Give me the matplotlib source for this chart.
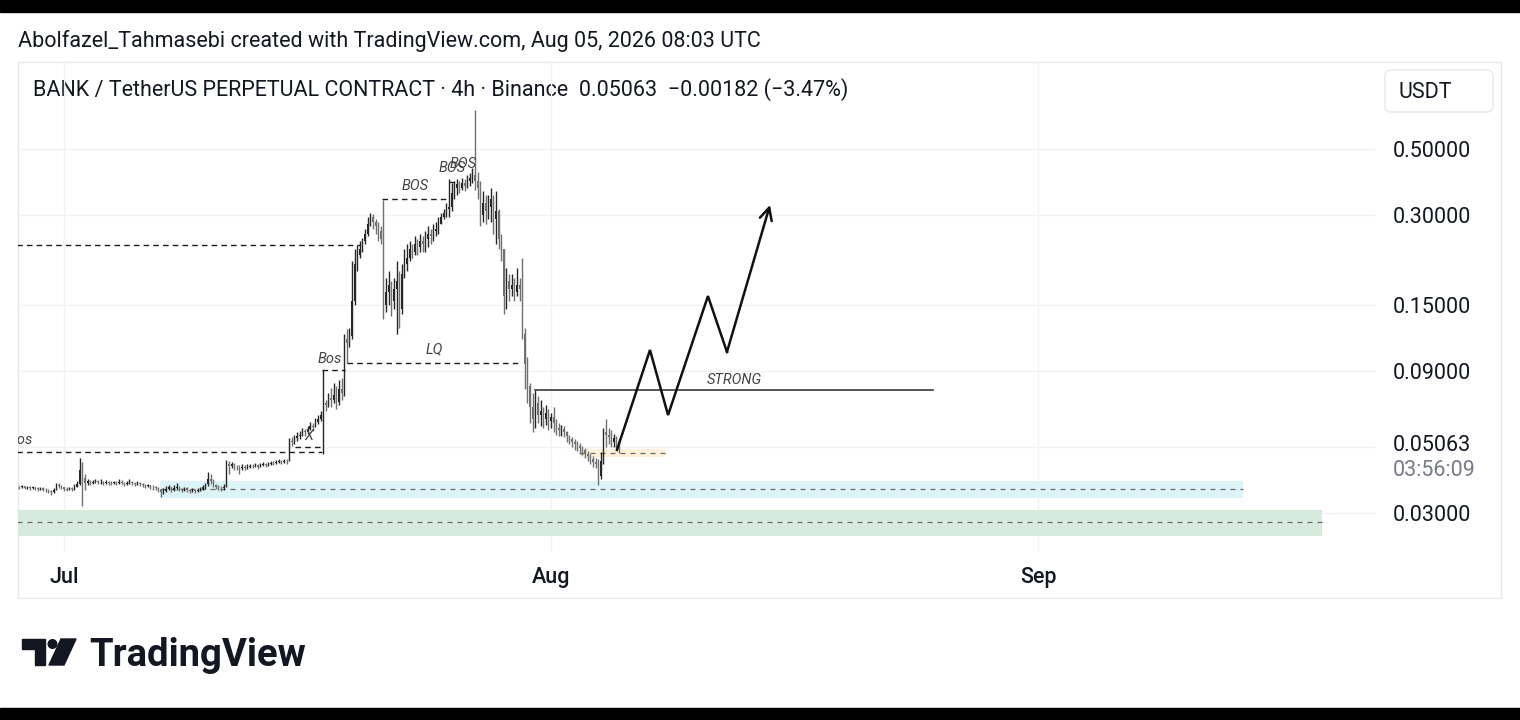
import matplotlib
matplotlib.use("Agg")
import matplotlib.pyplot as plt
import matplotlib.dates as mdates
from matplotlib.patches import Rectangle, Polygon, Circle, FancyBboxPatch
from datetime import datetime, timedelta

plt.rcParams['font.family'] = ['Roboto', 'DejaVu Sans']

# ---------------------------------------------------------------------------
# BANK/USDT perpetual, 4h candles from Jun 28 00:00 UTC, one row per day
# ---------------------------------------------------------------------------
first_candle = datetime(2026, 6, 28)
first_open = 0.0366

closes = [
    0.0368, 0.0366, 0.0369, 0.0365, 0.0367, 0.0364,   # Jun 28
    0.0366, 0.0363, 0.0361, 0.0364, 0.0360, 0.0358,   # Jun 29
    0.0356, 0.0352, 0.0360, 0.0372, 0.0369, 0.0366,   # Jun 30
    0.0362, 0.0360, 0.0363, 0.0361, 0.0368, 0.0375,   # Jul 1
    0.0420, 0.0395, 0.0378, 0.0384, 0.0380, 0.0382,   # Jul 2
    0.0385, 0.0381, 0.0383, 0.0379, 0.0382, 0.0380,   # Jul 3
    0.0378, 0.0381, 0.0379, 0.0383, 0.0380, 0.0377,   # Jul 4
    0.0380, 0.0383, 0.0378, 0.0376, 0.0379, 0.0375,   # Jul 5
    0.0373, 0.0370, 0.0372, 0.0368, 0.0366, 0.0364,   # Jul 6
    0.0360, 0.0352, 0.0356, 0.0362, 0.0366, 0.0360,   # Jul 7
    0.0365, 0.0368, 0.0362, 0.0358, 0.0363, 0.0360,   # Jul 8
    0.0356, 0.0358, 0.0355, 0.0359, 0.0362, 0.0366,   # Jul 9
    0.0375, 0.0392, 0.0385, 0.0372, 0.0368, 0.0365,   # Jul 10
    0.0363, 0.0368, 0.0440, 0.0432, 0.0438, 0.0430,   # Jul 11
    0.0428, 0.0425, 0.0430, 0.0426, 0.0429, 0.0432,   # Jul 12
    0.0431, 0.0434, 0.0430, 0.0435, 0.0438, 0.0436,   # Jul 13
    0.0440, 0.0443, 0.0441, 0.0446, 0.0449, 0.0446,   # Jul 14
    0.0450, 0.0448, 0.0525, 0.0520, 0.0535, 0.0545,   # Jul 15
    0.0550, 0.0565, 0.0560, 0.0575, 0.0590, 0.0585,   # Jul 16
    0.0605, 0.0620, 0.0640, 0.0700, 0.0690, 0.0730,   # Jul 17
    0.0720, 0.0750, 0.0710, 0.0780, 0.0760, 0.1150,   # Jul 18
    0.1120, 0.1180, 0.1550, 0.2050, 0.2200, 0.2300,   # Jul 19
    0.2450, 0.2600, 0.2800, 0.2950, 0.2850, 0.2750,   # Jul 20
    0.2650, 0.2500, 0.1500, 0.1650, 0.1750, 0.1550,   # Jul 21
    0.1700, 0.1800, 0.1450, 0.1900, 0.2050, 0.2150,   # Jul 22
    0.2300, 0.2250, 0.2400, 0.2350, 0.2450, 0.2400,   # Jul 23
    0.2500, 0.2600, 0.2550, 0.2650, 0.2700, 0.2800,   # Jul 24
    0.2950, 0.3050, 0.3150, 0.3200, 0.3550, 0.3700,   # Jul 25
    0.3800, 0.3700, 0.3850, 0.3750, 0.3900, 0.4000,   # Jul 26
    0.4100, 0.3900, 0.3700, 0.3000, 0.3300, 0.3100,   # Jul 27
    0.3200, 0.3400, 0.2900, 0.3100, 0.2500, 0.2300,   # Jul 28
    0.1600, 0.1800, 0.1700, 0.1750, 0.1650, 0.1750,   # Jul 29
    0.1700, 0.1200, 0.0950, 0.0800, 0.0680, 0.0620,   # Jul 30
    0.0700, 0.0640, 0.0660, 0.0620, 0.0650, 0.0610,   # Jul 31
    0.0630, 0.0600, 0.0580, 0.0570, 0.0575, 0.0560,   # Aug 1
    0.0545, 0.0530, 0.0520, 0.0510, 0.0505, 0.0495,   # Aug 2
    0.0488, 0.0475, 0.0465, 0.0455, 0.0445, 0.0440,   # Aug 3
    0.0400, 0.0450, 0.0560, 0.0550, 0.0540, 0.0520,   # Aug 4
    0.0535, 0.0520, 0.05063,                          # Aug 5
]

highs = [
    0.0372, 0.0371, 0.0373, 0.0370, 0.0371, 0.0369,
    0.0369, 0.0368, 0.0366, 0.0368, 0.0366, 0.0363,
    0.0361, 0.0358, 0.0363, 0.0378, 0.0380, 0.0373,
    0.0368, 0.0366, 0.0367, 0.0366, 0.0375, 0.0386,
    0.0459, 0.0445, 0.0405, 0.0392, 0.0388, 0.0389,
    0.0392, 0.0388, 0.0390, 0.0386, 0.0388, 0.0386,
    0.0384, 0.0386, 0.0385, 0.0390, 0.0387, 0.0383,
    0.0386, 0.0390, 0.0385, 0.0382, 0.0384, 0.0381,
    0.0378, 0.0376, 0.0377, 0.0374, 0.0372, 0.0369,
    0.0366, 0.0362, 0.0364, 0.0369, 0.0372, 0.0368,
    0.0372, 0.0378, 0.0370, 0.0365, 0.0368, 0.0366,
    0.0361, 0.0363, 0.0360, 0.0364, 0.0368, 0.0372,
    0.0380, 0.0412, 0.0405, 0.0390, 0.0376, 0.0372,
    0.0369, 0.0375, 0.0452, 0.0448, 0.0446, 0.0442,
    0.0436, 0.0434, 0.0438, 0.0434, 0.0437, 0.0440,
    0.0438, 0.0441, 0.0438, 0.0442, 0.0445, 0.0443,
    0.0447, 0.0450, 0.0449, 0.0453, 0.0456, 0.0454,
    0.0456, 0.0455, 0.0535, 0.0540, 0.0548, 0.0560,
    0.0565, 0.0578, 0.0575, 0.0590, 0.0605, 0.0600,
    0.0625, 0.0640, 0.0660, 0.0909, 0.0720, 0.0760,
    0.0790, 0.0820, 0.0800, 0.0840, 0.0850, 0.1200,
    0.1240, 0.1250, 0.2100, 0.2300, 0.2380, 0.2450,
    0.2520, 0.2700, 0.2950, 0.3050, 0.3020, 0.2900,
    0.2850, 0.2750, 0.3370, 0.1850, 0.1950, 0.1800,
    0.1850, 0.2100, 0.1950, 0.2050, 0.2300, 0.2400,
    0.2450, 0.2400, 0.2550, 0.2500, 0.2600, 0.2550,
    0.2650, 0.2750, 0.2700, 0.2800, 0.2850, 0.2950,
    0.3050, 0.3150, 0.3300, 0.3950, 0.3850, 0.3900,
    0.3950, 0.3900, 0.4000, 0.3950, 0.4100, 0.4150,
    0.4300, 0.6760, 0.4200, 0.3900, 0.3600, 0.3500,
    0.3500, 0.3700, 0.3500, 0.3600, 0.3150, 0.2600,
    0.2300, 0.2000, 0.1900, 0.1900, 0.1850, 0.2000,
    0.1850, 0.2150, 0.1250, 0.1000, 0.0820, 0.0760,
    0.0778, 0.0740, 0.0720, 0.0680, 0.0690, 0.0670,
    0.0650, 0.0680, 0.0620, 0.0600, 0.0595, 0.0590,
    0.0565, 0.0550, 0.0540, 0.0530, 0.0525, 0.0515,
    0.0505, 0.0495, 0.0485, 0.0475, 0.0465, 0.0458,
    0.0455, 0.0480, 0.0580, 0.0620, 0.0580, 0.0570,
    0.0555, 0.0545, 0.0530,
]

lows = [
    0.0362, 0.0362, 0.0364, 0.0361, 0.0362, 0.0360,
    0.0361, 0.0359, 0.0357, 0.0359, 0.0355, 0.0353,
    0.0350, 0.0345, 0.0350, 0.0358, 0.0364, 0.0361,
    0.0357, 0.0355, 0.0358, 0.0356, 0.0360, 0.0366,
    0.0372, 0.0316, 0.0360, 0.0372, 0.0374, 0.0376,
    0.0378, 0.0375, 0.0377, 0.0373, 0.0376, 0.0374,
    0.0373, 0.0375, 0.0374, 0.0377, 0.0375, 0.0371,
    0.0374, 0.0377, 0.0373, 0.0370, 0.0373, 0.0369,
    0.0368, 0.0365, 0.0367, 0.0362, 0.0360, 0.0358,
    0.0354, 0.0340, 0.0348, 0.0353, 0.0358, 0.0354,
    0.0357, 0.0360, 0.0355, 0.0352, 0.0356, 0.0354,
    0.0351, 0.0352, 0.0350, 0.0353, 0.0357, 0.0360,
    0.0362, 0.0370, 0.0375, 0.0366, 0.0361, 0.0358,
    0.0357, 0.0360, 0.0366, 0.0405, 0.0425, 0.0418,
    0.0418, 0.0405, 0.0420, 0.0418, 0.0421, 0.0424,
    0.0424, 0.0427, 0.0423, 0.0428, 0.0431, 0.0429,
    0.0433, 0.0436, 0.0434, 0.0439, 0.0442, 0.0439,
    0.0442, 0.0440, 0.0448, 0.0505, 0.0512, 0.0525,
    0.0530, 0.0545, 0.0545, 0.0555, 0.0570, 0.0565,
    0.0585, 0.0598, 0.0612, 0.0475, 0.0660, 0.0680,
    0.0680, 0.0700, 0.0670, 0.0690, 0.0720, 0.0740,
    0.0960, 0.1080, 0.1150, 0.1500, 0.1950, 0.2150,
    0.2250, 0.2400, 0.2550, 0.2750, 0.2700, 0.2600,
    0.2450, 0.2400, 0.1340, 0.1420, 0.1500, 0.1380,
    0.1450, 0.1200, 0.1250, 0.1400, 0.1850, 0.1950,
    0.2100, 0.2150, 0.2200, 0.2200, 0.2250, 0.2250,
    0.2250, 0.2350, 0.2400, 0.2450, 0.2550, 0.2600,
    0.2800, 0.2900, 0.2950, 0.2950, 0.3100, 0.3400,
    0.3500, 0.3550, 0.3650, 0.3600, 0.3700, 0.3750,
    0.3850, 0.3650, 0.3400, 0.2750, 0.2850, 0.2800,
    0.2900, 0.2850, 0.2600, 0.2400, 0.2300, 0.2100,
    0.1400, 0.1450, 0.1550, 0.1600, 0.1550, 0.1600,
    0.1550, 0.1150, 0.0780, 0.0700, 0.0600, 0.0560,
    0.0580, 0.0600, 0.0590, 0.0580, 0.0595, 0.0570,
    0.0580, 0.0560, 0.0550, 0.0545, 0.0545, 0.0540,
    0.0520, 0.0510, 0.0500, 0.0490, 0.0485, 0.0475,
    0.0470, 0.0460, 0.0450, 0.0440, 0.0430, 0.0425,
    0.0372, 0.0390, 0.0440, 0.0500, 0.0510, 0.0500,
    0.0500, 0.0495, 0.0478,
]

# ---------------------------------------------------------------------------
# drawings on the chart (x = days after Jul 1 00:00 UTC, y = price)
# ---------------------------------------------------------------------------
dashed_levels = [          # (from day, to day, price)
    (-3.6, 16.42, 0.0481),
    (-3.6, 18.84, 0.2380),
    (14.70, 16.42, 0.0500),
    (16.42, 17.89, 0.0909),
    (18.01, 29.15, 0.0956),
    (20.24, 24.38, 0.3400),
    (24.50, 24.95, 0.3870),
]
labels = [                 # (text, day, price, horizontal align)
    ("Bos", -3.55, 0.0528, "left"),
    ("X", 15.55, 0.0546, "center"),
    ("Bos", 16.93, 0.0985, "center"),
    ("LQ", 23.60, 0.1060, "center"),
    ("BOS", 22.34, 0.3760, "center"),
    ("BOS", 24.70, 0.4300, "center"),
    ("BOS", 25.40, 0.4450, "center"),
    ("STRONG", 42.65, 0.0842, "center"),
]
zones = [                  # (from day, to day, low, high, mid line, fill colour)
    (-3.6, 80.08, 0.0251, 0.0308, 0.0280, "#d6ebdc"),
    (6.10, 75.05, 0.0337, 0.0385, 0.0362, "#dcf3f8"),
    (32.85, 38.26, 0.0462, 0.0493, 0.0477, "#fff1d9"),
]
strong_level = (29.98, 55.30, 0.0778)
path_days = [35.20, 37.30, 38.45, 40.99, 42.20, 44.94]
path_prices = [0.0489, 0.1058, 0.0640, 0.1605, 0.1042, 0.3244]

price_ticks = [0.03, 0.09, 0.15, 0.30, 0.50]
grid_prices = [0.03, 0.05, 0.09, 0.15, 0.30, 0.50]
last_price = 0.05063
month_ticks = [datetime(2026, 7, 1), datetime(2026, 8, 1), datetime(2026, 9, 1)]
month_labels = ["Jul", "Aug", "Sep"]

# ---------------------------------------------------------------------------
W, H = 1520, 720
FS = 15.5
fig = plt.figure(figsize=(W / 100, H / 100), dpi=100)
fig.patch.set_facecolor("white")

# page decorations in pixel coordinates
deco = fig.add_axes([0, 0, 1, 1])
deco.set_xlim(0, W)
deco.set_ylim(H, 0)
deco.axis("off")
deco.add_patch(Rectangle((0, 0), W, 12, color="black"))
deco.add_patch(Rectangle((0, 708), W, 12, color="black"))
deco.add_patch(Rectangle((18, 62), 1483, 536, fill=False, ec="#e6e8ee", lw=1))
deco.add_patch(FancyBboxPatch((1385, 70), 108, 42, boxstyle="round,pad=0,rounding_size=6",
                              fc="white", ec="#e6e8ee", lw=1))
deco.text(1399, 92, "USDT", fontsize=FS, color="#131722", va="center")
deco.text(18, 41, "Abolfazel_Tahmasebi created with TradingView.com, Aug 05, 2026 08:03 UTC",
          fontsize=FS, color="#131722", va="center")
deco.text(33, 90, "BANK / TetherUS PERPETUAL CONTRACT \u00b7 4h \u00b7 Binance  0.05063  \u22120.00182 (\u22123.47%)",
          fontsize=FS, color="#131722", va="center")

# TradingView logo
deco.add_patch(Polygon([(22, 639), (45, 639), (45, 665), (35, 665), (35, 649), (22, 649)],
                       closed=True, color="#131722"))
deco.add_patch(Circle((52.5, 644), 4.3, color="#131722"))
deco.add_patch(Polygon([(61, 639), (76, 639), (64, 665), (49, 665)], closed=True, color="#131722"))
deco.text(89, 655, "TradingView", fontsize=27.5, fontweight="bold", color="#131722", va="center")

# main price pane
ax = fig.add_axes([18 / W, 1 - 552 / H, (1375 - 18) / W, (552 - 62) / H])
ax.set_facecolor("none")
for s in ax.spines.values():
    s.set_visible(False)

base = mdates.date2num(datetime(2026, 7, 1))


def dx(day):
    return base + day


times = [first_candle + timedelta(hours=4 * i) for i in range(len(closes))]
xs = mdates.date2num(times)
opens = [first_open] + closes[:-1]

for x, o, h, l, c in zip(xs, opens, highs, lows, closes):
    col = "#262626" if c >= o else "#707070"
    ax.vlines(x, min(l, o, c), max(h, o, c), color=col, lw=1.0, zorder=3)
    ax.bar(x, abs(c - o), bottom=min(o, c), width=0.08, color=col, lw=0, zorder=3)

ax.set_yscale("log")
ax.set_ylim(0.02222, 0.979)
ax.set_xlim(dx(-2.928), dx(83.45))

# grid
for p in grid_prices:
    ax.axhline(p, color="#f0f2f5", lw=1, zorder=0)
for m in month_ticks:
    ax.axvline(mdates.date2num(m), color="#f0f2f5", lw=1, zorder=0)

# zones
for d0, d1, lo, hi, mid, fc in zones:
    ax.add_patch(Rectangle((dx(d0), lo), d1 - d0, hi - lo, fc=fc, ec="none", zorder=1))
    ax.plot([dx(d0), dx(d1)], [mid, mid], color="#6a6a6a", lw=0.9,
            dashes=(4, 4), zorder=2)

# structure lines and labels
for d0, d1, p in dashed_levels:
    ax.plot([dx(d0), dx(d1)], [p, p], color="#1e1e1e", lw=1.0, dashes=(4, 3), zorder=4)
for txt, d, p, ha in labels:
    ax.text(dx(d), p, txt, fontsize=10.5, style="italic", color="#444444",
            ha=ha, va="center", zorder=5, clip_on=True)

d0, d1, p = strong_level
ax.plot([dx(d0), dx(d1)], [p, p], color="#3a3a3a", lw=1.2, zorder=4)

# projected path
px = [dx(d) for d in path_days]
ax.plot(px[:-1], path_prices[:-1], color="#111111", lw=1.8, zorder=6,
        solid_joinstyle="miter")
ax.annotate("", xy=(px[-1], path_prices[-1]), xytext=(px[-2], path_prices[-2]),
            arrowprops=dict(arrowstyle="->", color="#111111", lw=1.8,
                            mutation_scale=22, shrinkA=0, shrinkB=0), zorder=6)

# axes ticks
ax.yaxis.tick_right()
ax.set_yticks(price_ticks)
ax.set_yticklabels([f"{t:.5f}" for t in price_ticks])
ax.yaxis.set_minor_locator(matplotlib.ticker.NullLocator())
ax.tick_params(axis="y", length=0, pad=13, labelsize=FS, labelcolor="#131722")
ax.set_xticks(mdates.date2num(month_ticks))
ax.set_xticklabels(month_labels)
ax.tick_params(axis="x", length=0, pad=11, labelsize=FS, labelcolor="#131722")
for t in ax.get_xticklabels():
    t.set_fontweight("medium")

ax.text(1.0 + 18 / (1375 - 18), last_price, f"{last_price:.5f}", transform=ax.get_yaxis_transform(),
        fontsize=FS, color="#131722", va="center", ha="left")
ax.text(1.0 + 18 / (1375 - 18), last_price * 0.826, "03:56:09", transform=ax.get_yaxis_transform(),
        fontsize=FS, color="#787b86", va="center", ha="left")

fig.savefig("out.png", dpi=100, facecolor="white")
